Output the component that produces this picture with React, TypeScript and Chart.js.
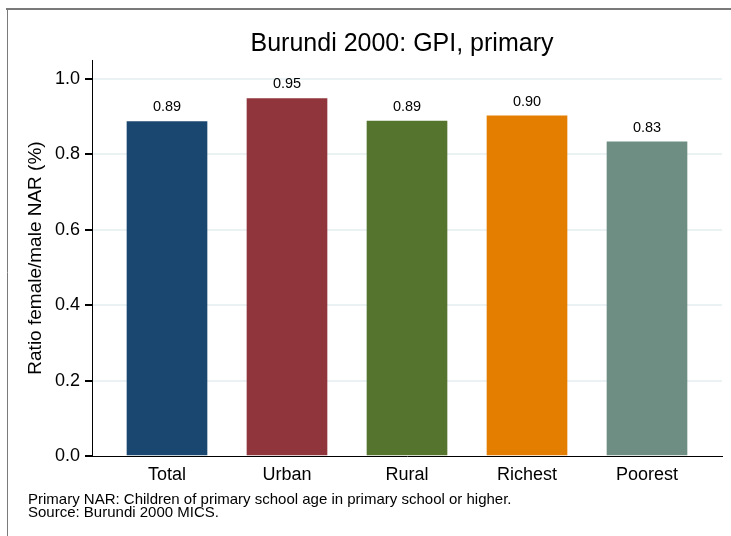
import React, { useEffect, useRef } from "react";
import { Chart, registerables } from "chart.js";

Chart.register(...registerables);

const categories = ["Total", "Urban", "Rural", "Richest", "Poorest"];
const values = [0.887, 0.948, 0.888, 0.902, 0.833];
const barColors = ["#1a476f", "#90353b", "#55752f", "#e37e00", "#6e8e84"];
const yTicks = [0, 0.2, 0.4, 0.6, 0.8, 1.0];
const titleText = "Burundi 2000: GPI, primary";
const yAxisTitle = "Ratio female/male NAR (%)";
const footnotes = [
  "Primary NAR: Children of primary school age in primary school or higher.",
  "Source: Burundi 2000 MICS.",
];

const FONT = "'Liberation Sans', Arial, Helvetica, sans-serif";

const decorPlugin = {
  id: "decor",
  beforeDraw(chart: any) {
    const { ctx, width, height } = chart;
    ctx.save();
    ctx.fillStyle = "#ffffff";
    ctx.fillRect(0, 0, width, height);
    ctx.strokeStyle = "#7a7a7a";
    ctx.lineWidth = 2;
    ctx.beginPath();
    ctx.moveTo(6, 9);
    ctx.lineTo(width, 9);
    ctx.stroke();
    ctx.lineWidth = 1;
    ctx.beginPath();
    ctx.moveTo(7.5, 9);
    ctx.lineTo(7.5, height);
    ctx.stroke();
    ctx.restore();
  },
  afterDraw(chart: any) {
    const { ctx } = chart;
    ctx.save();
    ctx.fillStyle = "#000000";
    ctx.textAlign = "center";
    ctx.textBaseline = "alphabetic";
    ctx.font = `25px ${FONT}`;
    ctx.fillText(titleText, 402, 51);

    ctx.textAlign = "left";
    ctx.font = `15px ${FONT}`;
    footnotes.forEach((t, i) => ctx.fillText(t, 28, 504 + i * 13));

    const meta = chart.getDatasetMeta(0);
    ctx.textAlign = "center";
    ctx.textBaseline = "middle";
    ctx.font = `14.5px ${FONT}`;
    meta.data.forEach((el: any, i: number) => {
      ctx.fillText(values[i].toFixed(2), el.x, el.y - 14);
    });
    ctx.restore();
  },
};

export default function App() {
  const ref = useRef<HTMLCanvasElement>(null);
  useEffect(() => {
    if (!ref.current) return;
    const chart = new Chart(ref.current, {
      type: "bar",
      data: {
        datasets: [
          {
            data: values.map((v, i) => ({ x: i, y: v })),
            backgroundColor: barColors,
            borderWidth: 0,
            barThickness: 80,
          },
        ],
      },
      options: {
        animation: false,
        responsive: false,
        devicePixelRatio: 1,
        layout: { padding: { left: 0, right: 9, top: 60, bottom: 50 } },
        plugins: {
          legend: { display: false },
          tooltip: { enabled: false },
          title: { display: false },
        },
        scales: {
          x: {
            type: "linear",
            offset: false,
            min: -0.625,
            max: 4.625,
            afterBuildTicks: (scale: any) => {
              scale.ticks = categories.map((_, i) => ({ value: i }));
            },
            afterFit: (scale: any) => {
              scale.height = 30;
            },
            grid: { display: false, drawTicks: false, offset: false },
            border: { display: true, color: "#000000", width: 1 },
            ticks: {
              autoSkip: false,
              maxRotation: 0,
              padding: 8,
              color: "#000000",
              font: { family: FONT, size: 18 },
              callback: (v: any) => categories[v] ?? "",
            },
          },
          y: {
            min: 0,
            max: 1.05,
            afterBuildTicks: (scale: any) => {
              scale.ticks = yTicks.map((v) => ({ value: v }));
            },
            afterFit: (scale: any) => {
              scale.width = 92;
            },
            grid: {
              color: (c: any) => (c.tick && c.tick.value === 0 ? "rgba(0,0,0,0)" : "#eaf2f3"),
              lineWidth: 2,
              tickColor: "#000000",
              tickLength: 7,
              drawTicks: true,
            },
            border: { display: true, color: "#000000", width: 1 },
            ticks: {
              padding: 5,
              color: "#000000",
              font: { family: FONT, size: 18 },
              callback: (v: any) => Number(v).toFixed(1),
            },
            title: {
              display: true,
              text: yAxisTitle,
              color: "#000000",
              font: { family: FONT, size: 19 },
              padding: { top: 24, bottom: 0 },
            },
          },
        },
      },
      plugins: [decorPlugin],
    });
    return () => chart.destroy();
  }, []);

  return (
    <div style={{ position: "fixed", left: 0, top: 0, width: 731, height: 536 }}>
      <canvas ref={ref} width={731} height={536} style={{ width: 731, height: 536 }} />
    </div>
  );
}
